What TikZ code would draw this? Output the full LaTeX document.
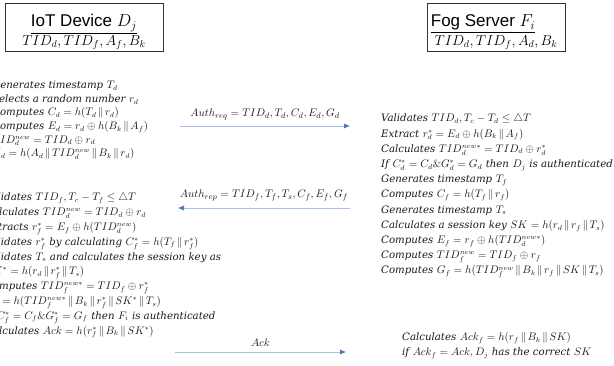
\documentclass[tikz,border=0pt]{standalone}
\usepackage{amssymb}
\usepackage{fontspec}
\newfontfamily\headfont{Liberation Sans}
\newfontfamily\wordfont{DejaVu Serif}
\usetikzlibrary{arrows.meta}
\setlength{\lineskiplimit}{-20pt}
\newcommand{\w}[1]{{\wordfont\itshape\fontsize{10.2}{12}\selectfont#1}}
\newcommand{\cat}{\mskip2.5mu\|\mskip2.5mu}
\definecolor{linkblue}{RGB}{170,192,232}
\definecolor{tipblue}{RGB}{68,114,196}
\tikzset{
  party/.style={draw=black!80,line width=0.8pt,align=center,minimum height=45pt,inner sep=2pt,font=\fontsize{17}{19}\selectfont},
  steps/.style={anchor=north west,align=left,inner sep=0pt,text=black!90,font=\fontsize{10.6}{#1}\selectfont},
  msg/.style={draw=linkblue,line width=0.6pt,-{Latex[length=6pt,width=5pt,color=tipblue]}},
  msglabel/.style={inner sep=0pt,text=black!90,font=\fontsize{11}{13}\selectfont}
}
\begin{document}
\begin{tikzpicture}[x=1pt,y=-1pt]
  \useasboundingbox (0,0) rectangle (614,365);
  \clip (0,0) rectangle (614,365);
  % the two parties
  \node[party,minimum width=158pt] (dev) at (84,27.5) {\rule{0pt}{21pt}{\headfont\underline{IoT Device $D_j$}}\\ {\fontsize{14.5}{17}\selectfont$TID_d, TID_f, A_f, B_k$}};
  \node[party,minimum width=138pt] (fog) at (496,27.5) {\rule{0pt}{21pt}{\headfont\underline{Fog Server $F_i$}}\hspace*{26pt}\\ {\fontsize{14.5}{17}\selectfont$TID_d, TID_f, A_d, B_k$}};
  % device: request
  \node[steps=13.6] (devreq) at (-8,81) {\w{Generates timestamp} $T_d$\\
    \w{Selects a random number} $r_d$\\
    \w{Computes} $C_d = h(T_d \cat r_d)$\\
    \w{Computes} $E_d = r_d \oplus h\big(B_k \cat A_f\big)$\\
    $TID_d^{new} = TID_d \oplus r_d$\\
    $G_d = h(A_d \cat TID_d^{new} \cat B_k \cat r_d)$};
  % fog: check request
  \node[steps=15.2] (fogchk) at (381,114) {\w{Validates} $TID_d, T_c - T_d \leq \triangle T$\\
    \w{Extract} $r_d^* = E_d \oplus h\big(B_k \cat A_f\big)$\\
    \w{Calculates} $TID_d^{new*} = TID_d \oplus r_d^*$\\
    \w{If} $C_d^* = C_d \& G_d^* = G_d$ \w{then} $D_j$ \w{is authenticated}};
  % fog: reply
  \node[steps=15.2] (fogrep) at (381,175) {\w{Generates timestamp} $T_f$\\
    \w{Computes} $C_f = h\big(T_f \cat r_f\big)$\\
    \w{Generates timestamp} $T_s$\\
    \w{Calculates a session key} $SK = h\big(r_d \cat r_f \cat T_s\big)$\\
    \w{Computes} $E_f = r_f \oplus h(TID_d^{new*})$\\
    \w{Computes} $TID_f^{new} = TID_f \oplus r_f$\\
    \w{Computes} $G_f = h\big(TID_f^{new} \cat B_k \cat r_f \cat SK \cat T_s\big)$};
  % device: check reply
  \node[steps=14.8] (devchk) at (-15,193) {\w{Validates} $TID_f, T_c - T_f \leq \triangle T$\\
    \w{Calculates} $TID_d^{new} = TID_d \oplus r_d$\\
    \w{Extracts} $r_f^* = E_f \oplus h(TID_d^{new})$\\
    \w{Validates} $r_f^*$ \w{by calculating} $C_f^* = h\big(T_f \cat r_f^*\big)$\\
    \w{Validates} $T_s$ \w{and calculates the session key as}\\
    $SK^* = h\big(r_d \cat r_f^* \cat T_s\big)$\\
    \w{Computes} $TID_f^{new*} = TID_f \oplus r_f^*$\\
    $G_f^* = h\big(TID_f^{new*} \cat B_k \cat r_f^* \cat SK^* \cat T_s\big)$\\
    \w{If} $C_f^* = C_f \& G_f^* = G_f$ \w{then} $F_i$ \w{is authenticated}\\
    \w{Calculates} $Ack = h\big(r_f^* \cat B_k \cat SK^*\big)$};
  % fog: acknowledgement check
  \node[steps=14.8] (fogack) at (402,332) {\w{Calculates} $Ack_f = h\big(r_f \cat B_k \cat SK\big)$\\
    \w{if} $Ack_f = Ack, D_j$ \w{has the correct} $SK$};
  % messages
  \coordinate (reqL) at (180,126);
  \coordinate (reqR) at (350,126);
  \coordinate (repR) at (350,208);
  \coordinate (repL) at (178,208);
  \coordinate (ackL) at (175,352);
  \coordinate (ackR) at (346,352);
  \draw[msg] (reqL) -- (reqR) node[msglabel,midway,above=6pt] (req) {$Auth_{req} = TID_d, T_d, C_d, E_d, G_d$};
  \draw[msg] (repR) -- (repL) node[msglabel,midway,above=7pt] (rep) {$Auth_{rep} = TID_f, T_f, T_s, C_f, E_f, G_f$};
  \draw[msg] (ackL) -- (ackR) node[msglabel,midway,above=5pt] (ack) {$Ack$};
\end{tikzpicture}
\end{document}
